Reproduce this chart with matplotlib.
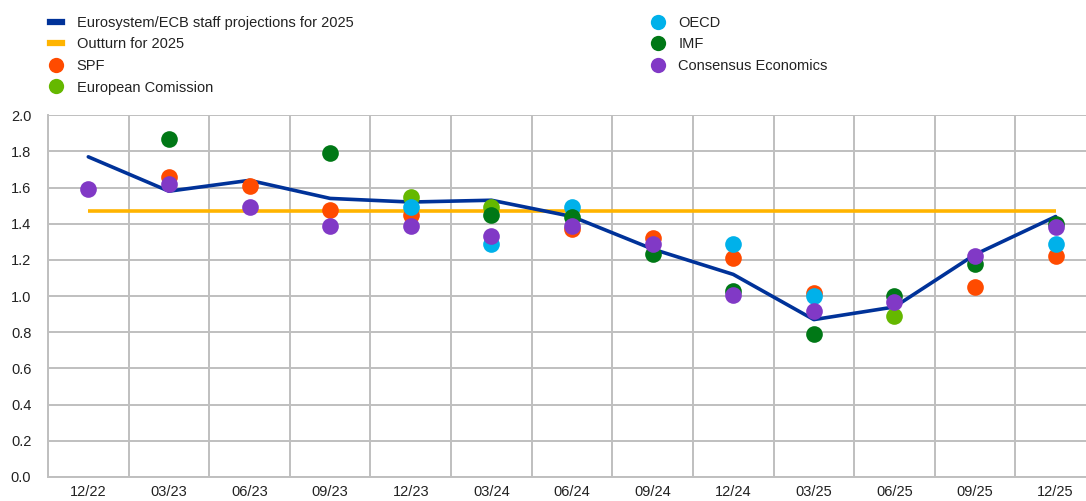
import numpy as np
import matplotlib.pyplot as plt
from matplotlib.lines import Line2D

plt.rcParams['font.family'] = ['Liberation Sans', 'DejaVu Sans']

quarters = ['12/22', '03/23', '06/23', '09/23', '12/23', '03/24', '06/24',
            '09/24', '12/24', '03/25', '06/25', '09/25', '12/25']
nan = np.nan

# projections for 2025 made at each vintage
ecb = [1.77, 1.58, 1.64, 1.54, 1.52, 1.53, 1.44, 1.26, 1.12, 0.87, 0.94, 1.23, 1.44]
outturn = 1.47
spf = [nan, 1.66, 1.61, 1.475, 1.45, nan, 1.37, 1.32, 1.21, 1.015, nan, 1.05, 1.22]
commission = [nan, nan, nan, nan, 1.55, 1.49, nan, nan, nan, nan, 0.89, nan, nan]
oecd = [nan, nan, nan, nan, 1.49, 1.29, 1.49, nan, 1.29, 1.00, nan, nan, 1.29]
imf = [nan, 1.87, nan, 1.79, nan, 1.45, 1.44, 1.23, 1.03, 0.79, 1.00, 1.18, 1.40]
consensus = [1.59, 1.62, 1.49, 1.39, 1.39, 1.33, 1.39, 1.29, 1.005, 0.92, 0.97, 1.22, 1.38]

navy = '#003299'
yellow = '#FFB400'
orange = '#FF4B00'
lgreen = '#65B800'
cyan = '#00B1EA'
dgreen = '#007816'
purple = '#8139C6'
grid_col = '#BFBFBF'

fig = plt.figure(figsize=(10.86, 5.01), dpi=100)
ax = fig.add_axes([0.0442, 0.048, 0.965, 0.722])

x = np.arange(len(quarters))
ax.plot(x, [outturn] * len(x), color=yellow, lw=2.6, zorder=3, solid_capstyle='butt')
ax.plot(x, ecb, color=navy, lw=2.6, zorder=4, solid_capstyle='round')

dots = [(spf, orange), (commission, lgreen), (oecd, cyan), (imf, dgreen), (consensus, purple)]
for vals, col in dots:
    ax.plot(x, vals, 'o', color=col, ms=12, mec='none', zorder=5)

ax.set_xlim(-0.5, len(quarters) - 0.5)
ax.set_ylim(0, 2.0)
ax.set_yticks(np.arange(0, 2.01, 0.2))
ax.set_yticklabels([f'{v:.1f}' for v in np.arange(0, 2.01, 0.2)])
ax.set_xticks(x)
ax.set_xticklabels(quarters)
ax.set_xticks(np.arange(-0.5, len(quarters), 1), minor=True)
ax.grid(True, axis='y', color=grid_col, lw=1.4, zorder=0)
ax.grid(True, axis='x', which='minor', color=grid_col, lw=1.4, zorder=0)
ax.tick_params(axis='both', which='both', length=0, labelsize=10.5, colors='#222222')
ax.tick_params(axis='x', pad=6)
ax.tick_params(axis='y', pad=12)
for side in ['top', 'right']:
    ax.spines[side].set_visible(False)
for side in ['left', 'bottom']:
    ax.spines[side].set_color(grid_col)
    ax.spines[side].set_linewidth(1.4)

left_handles = [
    Line2D([], [], color=navy, lw=4.5),
    Line2D([], [], color=yellow, lw=4.5),
    Line2D([], [], marker='o', ls='none', color=orange, ms=11, mec='none'),
    Line2D([], [], marker='o', ls='none', color=lgreen, ms=11, mec='none'),
]
left_labels = ['Eurosystem/ECB staff projections for 2025', 'Outturn for 2025',
               'SPF', 'European Comission']
right_handles = [
    Line2D([], [], marker='o', ls='none', color=cyan, ms=11, mec='none'),
    Line2D([], [], marker='o', ls='none', color=dgreen, ms=11, mec='none'),
    Line2D([], [], marker='o', ls='none', color=purple, ms=11, mec='none'),
]
right_labels = ['OECD', 'IMF', 'Consensus Economics']

leg_kw = dict(frameon=False, fontsize=10.5, handlelength=0.8, handletextpad=1.0,
              labelspacing=0.52, borderaxespad=0, labelcolor='#222222')
fig.legend(left_handles, left_labels, loc='upper left',
           bbox_to_anchor=(0.041, 0.980), **leg_kw)
fig.legend(right_handles, right_labels, loc='upper left',
           bbox_to_anchor=(0.595, 0.980), **leg_kw)

fig.savefig('out.png', dpi=100)
